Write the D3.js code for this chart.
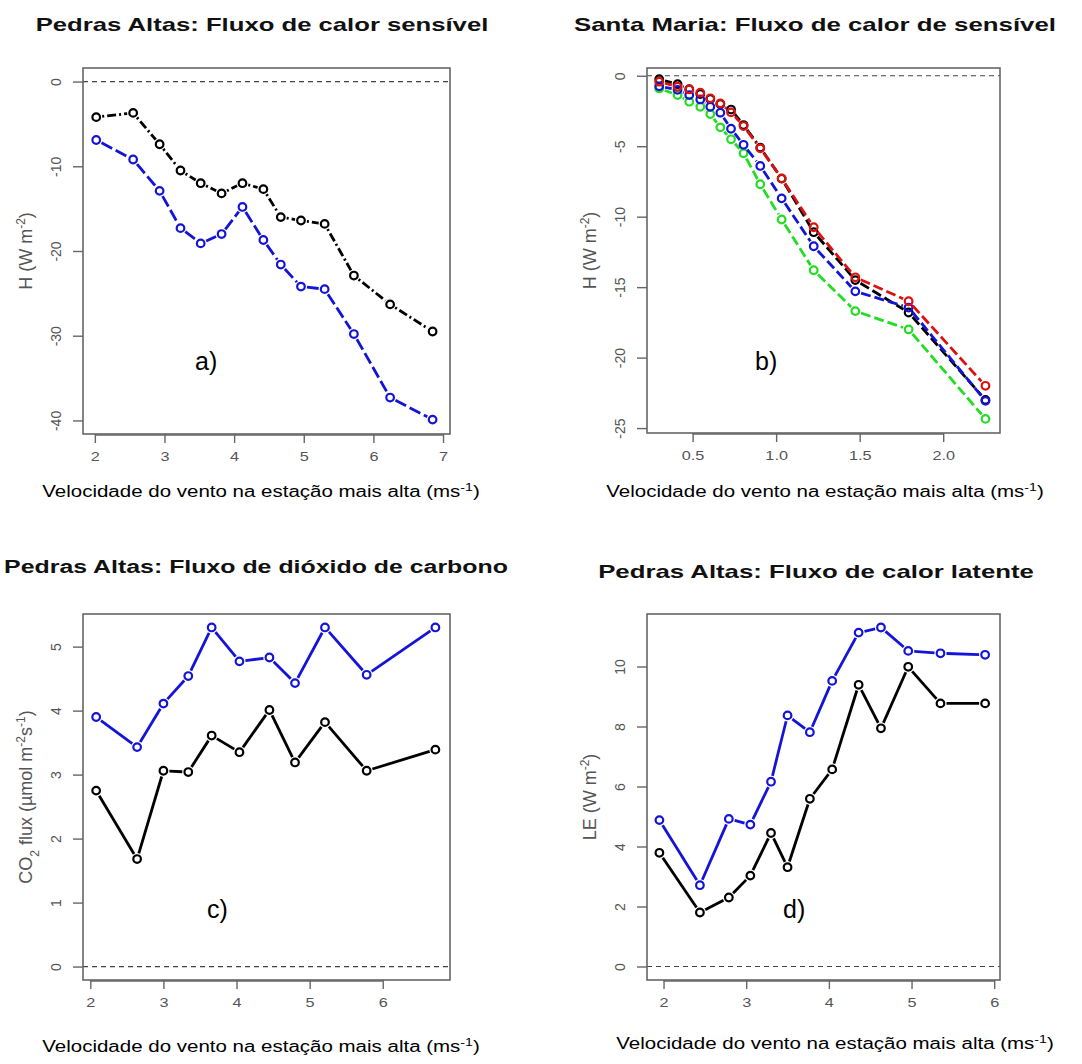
<!DOCTYPE html>
<html>
<head>
<meta charset="utf-8">
<script src="https://cdn.jsdelivr.net/npm/d3@7"></script>
<style>
    body { margin: 0; background: #fff; }
    svg { display: block; font-family: "Liberation Sans", Arial, sans-serif; }
    .title { font-weight: bold; font-size: 18px; fill: #111; }
    .tick-label { font-size: 13px; fill: #555; }
    .axis-title { font-size: 18px; fill: #555; }
    .x-title { font-size: 16px; fill: #000; }
    .panel-label { font-size: 25px; fill: #000; }
</style>
</head>
<body>
<svg id="chart" width="1082" height="1064"></svg>
<script>
// a) Pedras Altas: sensible heat flux
var aX     = [2.02, 2.55, 2.93, 3.23, 3.52, 3.82, 4.12, 4.42, 4.67, 4.96, 5.30, 5.72, 6.24, 6.85];
var aBlack = [-4.2, -3.7, -7.4, -10.5, -12.0, -13.2, -12.0, -12.7, -16.0, -16.4, -16.8, -22.9, -26.3, -29.5];
var aBlue  = [-6.9, -9.2, -12.9, -17.3, -19.1, -18.0, -14.8, -18.7, -21.6, -24.2, -24.5, -29.8, -37.3, -39.9];

// b) Santa Maria: sensible heat flux
var bX     = [0.30, 0.41, 0.48, 0.546, 0.606, 0.666, 0.73, 0.805, 0.905, 1.033, 1.225, 1.474, 1.793, 2.253];
var bBlack = [-0.25, -0.6, -0.95, -1.3, -1.65, -2.0, -2.4, -3.5, -5.1, -7.3, -11.1, -14.5, -16.8, -23.0];
var bRed   = [-0.42, -0.78, -0.97, -1.2, -1.6, -1.96, -2.6, -3.57, -5.15, -7.28, -10.75, -14.3, -16.0, -22.0];
var bBlue  = [-0.75, -1.0, -1.37, -1.68, -2.2, -2.62, -3.76, -4.9, -6.4, -8.7, -12.1, -15.3, -16.45, -23.07];
var bGreen = [-0.9, -1.37, -1.84, -2.2, -2.72, -3.66, -4.51, -5.5, -7.7, -10.2, -13.8, -16.7, -18.0, -24.35];

// c) Pedras Altas: CO2 flux
var cX     = [2.08, 2.64, 3.0, 3.34, 3.66, 4.04, 4.45, 4.80, 5.21, 5.78, 6.72];
var cBlack = [2.75, 1.68, 3.06, 3.04, 3.61, 3.35, 4.01, 3.19, 3.82, 3.06, 3.39];
var cBlue  = [3.90, 3.43, 4.11, 4.54, 5.30, 4.77, 4.83, 4.43, 5.30, 4.56, 5.30];

// d) Pedras Altas: latent heat flux
var dX     = [1.95, 2.44, 2.79, 3.05, 3.30, 3.50, 3.77, 4.04, 4.36, 4.63, 4.96, 5.35, 5.89];
var dBlack = [3.79, 1.80, 2.30, 3.03, 4.45, 3.31, 5.59, 6.57, 9.39, 7.94, 9.99, 8.77, 8.77];
var dBlue  = [4.88, 2.71, 4.92, 4.73, 6.16, 8.37, 7.81, 9.52, 11.13, 11.30, 10.52, 10.44, 10.39];

var aXTicks = [2, 3, 4, 5, 6, 7],       aYTicks = [0, -10, -20, -30, -40];
var bXTicks = [0.5, 1.0, 1.5, 2.0],      bYTicks = [0, -5, -10, -15, -20, -25];
var cXTicks = [2, 3, 4, 5, 6],          cYTicks = [0, 1, 2, 3, 4, 5];
var dXTicks = [2, 3, 4, 5, 6],          dYTicks = [0, 2, 4, 6, 8, 10];

var xTitle = "Velocidade do vento na estação mais alta (ms";

var svg = d3.select("#chart");
svg.append("rect").attr("width", 1082).attr("height", 1064).attr("fill", "#fff");

// the picture is stretched sideways, so stretch text to a measured width
function stretchTo(sel, cx, y, width) {
    var w = sel.node().getBBox().width;
    sel.attr("x", 0).attr("y", 0).attr("text-anchor", "middle")
        .attr("transform", "translate(" + cx + "," + y + ") scale(" + (width / w) + ",1)");
}

function panel(opt) {
    var g = svg.append("g");
    var x = d3.scaleLinear().domain(opt.xDomain).range([opt.left, opt.right]);
    var y = d3.scaleLinear().domain(opt.yDomain).range([opt.bottom, opt.top]);

    // title
    var tt = g.append("text").attr("class", "title").attr("text-anchor", "middle").text(opt.title);
    stretchTo(tt, opt.titleX, opt.titleY, opt.titleW);

    // zero line
    g.append("line")
        .attr("x1", opt.left).attr("x2", opt.right)
        .attr("y1", y(0)).attr("y2", y(0))
        .attr("stroke", "#444").attr("stroke-width", 1.2)
        .attr("stroke-dasharray", "5,4");

    // series, R type="b": segments with gaps round the points
    opt.series.forEach(function(s) {
        var pts = opt.xs.map(function(v, i) { return [x(v), y(s.values[i])]; });
        var gap = 6;
        for (var i = 0; i < pts.length - 1; i++) {
            var p0 = pts[i], p1 = pts[i + 1];
            var dx = p1[0] - p0[0], dy = p1[1] - p0[1];
            var len = Math.sqrt(dx * dx + dy * dy);
            if (len <= 2 * gap) continue;
            var ux = dx / len, uy = dy / len;
            g.append("line")
                .attr("x1", p0[0] + ux * gap).attr("y1", p0[1] + uy * gap)
                .attr("x2", p1[0] - ux * gap).attr("y2", p1[1] - uy * gap)
                .attr("stroke", s.color).attr("stroke-width", 2.8)
                .attr("stroke-dasharray", s.dash || null);
        }
        g.selectAll(null).data(pts).enter().append("circle")
            .attr("cx", function(d) { return d[0]; })
            .attr("cy", function(d) { return d[1]; })
            .attr("r", 3.8)
            .attr("fill", "none")
            .attr("stroke", s.color)
            .attr("stroke-width", 2.2);
    });

    // box
    g.append("rect")
        .attr("x", opt.left).attr("y", opt.top)
        .attr("width", opt.right - opt.left).attr("height", opt.bottom - opt.top)
        .attr("fill", "none").attr("stroke", "#666").attr("stroke-width", 1.6);

    // x axis
    var xa = g.append("g").attr("transform", "translate(0," + opt.bottom + ")")
        .call(d3.axisBottom(x).tickValues(opt.xTicks).tickSize(9)
            .tickFormat(opt.xFormat || function(d) { return String(d); }));
    xa.select(".domain").attr("stroke", "#666").attr("stroke-width", 1.4)
        .attr("d", "M" + x(opt.xTicks[0]) + ",1H" + x(opt.xTicks[opt.xTicks.length - 1]));
    xa.selectAll(".tick line").attr("stroke", "#666").attr("stroke-width", 1.4);
    xa.selectAll(".tick text")
        .attr("class", "tick-label").attr("font-family", null).attr("font-size", null).attr("fill", null)
        .attr("y", null).attr("dy", null)
        .attr("x", 0)
        .attr("transform", "translate(0,27) scale(1.25,1)");

    // y axis with rotated labels
    var ya = g.append("g").attr("transform", "translate(" + opt.left + ",0)")
        .call(d3.axisLeft(y).tickValues(opt.yTicks).tickSize(10).tickFormat(function(d) { return String(d); }));
    ya.select(".domain").remove();
    ya.selectAll(".tick line").attr("stroke", "#666").attr("stroke-width", 1.4);
    ya.selectAll(".tick text")
        .attr("class", "tick-label").attr("font-family", null).attr("font-size", null).attr("fill", null)
        .attr("x", null).attr("dy", null)
        .attr("text-anchor", "middle")
        .style("font-size", "14px")
        .attr("transform", "translate(-27,0) rotate(-90) translate(0,5)");

    // y title
    var yt = g.append("text").attr("class", "axis-title")
        .attr("text-anchor", "middle")
        .attr("transform", "translate(" + (opt.left - 51) + "," + ((opt.top + opt.bottom) / 2) + ") rotate(-90)");
    opt.yTitle.forEach(function(p) {
        var t = yt.append("tspan").text(p[0]);
        if (p[1] === "sup") t.attr("baseline-shift", "super").attr("font-size", 12);
        if (p[1] === "sub") t.attr("baseline-shift", "sub").attr("font-size", 12);
    });

    // x title
    var xt = g.append("text").attr("class", "x-title");
    xt.append("tspan").text(xTitle);
    xt.append("tspan").attr("baseline-shift", "super").attr("font-size", 11).text("-1");
    xt.append("tspan").text(")");
    stretchTo(xt, opt.xTitleX, opt.xTitleY, 438);

    // panel letter
    g.append("text").attr("class", "panel-label")
        .attr("x", opt.labelX).attr("y", opt.labelY).text(opt.label);
}

panel({
    left: 83, right: 450, top: 68, bottom: 434,
    xDomain: [1.83, 7.1], yDomain: [-41.6, 1.6],
    xs: aX,
    series: [
        { values: aBlack, color: "#000", dash: "2,3,9,3" },
        { values: aBlue, color: "#1414d8", dash: "12,4" }
    ],
    xTicks: aXTicks, yTicks: aYTicks,
    title: "Pedras Altas: Fluxo de calor sensível", titleX: 262, titleY: 31, titleW: 453,
    yTitle: [["H (W m"], ["-2", "sup"], [")"]],
    xTitleX: 261, xTitleY: 497,
    label: "a)", labelX: 195, labelY: 370
});

panel({
    left: 647, right: 1000, top: 68, bottom: 433,
    xDomain: [0.227, 2.34], yDomain: [-25.35, 0.55],
    xs: bX,
    series: [
        { values: bGreen, color: "#22dd22", dash: "10,4" },
        { values: bBlack, color: "#000", dash: "10,4" },
        { values: bBlue, color: "#1414d8", dash: "10,4" },
        { values: bRed, color: "#dd1111", dash: "10,4" }
    ],
    xTicks: bXTicks, yTicks: bYTicks, xFormat: d3.format(".1f"),
    title: "Santa Maria: Fluxo de calor de sensível", titleX: 815, titleY: 31, titleW: 482,
    yTitle: [["H (W m"], ["-2", "sup"], [")"]],
    xTitleX: 825, xTitleY: 497,
    label: "b)", labelX: 755, labelY: 370
});

panel({
    left: 83, right: 450, top: 614, bottom: 980,
    xDomain: [1.9, 6.92], yDomain: [-0.21, 5.51],
    xs: cX,
    series: [
        { values: cBlack, color: "#000" },
        { values: cBlue, color: "#1414d8" }
    ],
    xTicks: cXTicks, yTicks: cYTicks,
    title: "Pedras Altas: Fluxo de dióxido de carbono", titleX: 256, titleY: 573, titleW: 504,
    yTitle: [["CO"], ["2", "sub"], [" flux (µmol m"], ["-2", "sup"], ["s"], ["-1", "sup"], [")"]],
    xTitleX: 261, xTitleY: 1052,
    label: "c)", labelX: 207, labelY: 918
});

panel({
    left: 647, right: 1000, top: 614, bottom: 980,
    xDomain: [1.8, 6.07], yDomain: [-0.45, 11.75],
    xs: dX,
    series: [
        { values: dBlack, color: "#000" },
        { values: dBlue, color: "#1414d8" }
    ],
    xTicks: dXTicks, yTicks: dYTicks,
    title: "Pedras Altas: Fluxo de calor latente", titleX: 816, titleY: 578, titleW: 436,
    yTitle: [["LE (W m"], ["-2", "sup"], [")"]],
    xTitleX: 835, xTitleY: 1049,
    label: "d)", labelX: 783, labelY: 918
});
</script>
</body>
</html>
